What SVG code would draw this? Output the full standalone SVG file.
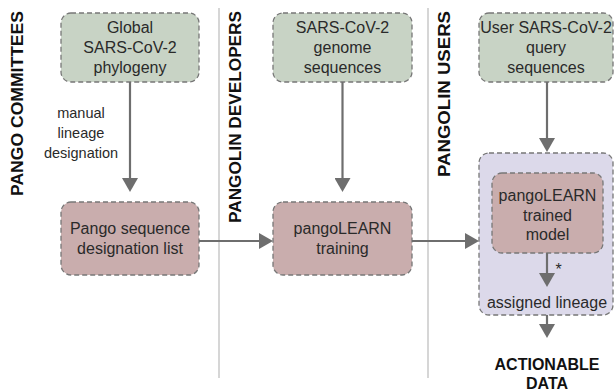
<svg xmlns="http://www.w3.org/2000/svg" width="614" height="392" viewBox="0 0 614 392">
<style>
.t{font-family:"Liberation Sans",Arial,sans-serif;font-size:16px;fill:#2a2a2a;text-anchor:middle}
.s{font-size:14.5px}
.b{font-family:"Liberation Sans",Arial,sans-serif;font-weight:bold;font-size:16px;fill:#111}
.box{stroke:#777;stroke-width:1.3;stroke-dasharray:5 3}
.g{fill:#c8d3c5}
.p{fill:#c9adad}
.v{fill:#dcd9ea}
.sep{stroke:#c9c9c9;stroke-width:1.5}
.a{stroke:#6e6e6e;stroke-width:2.2;fill:none;marker-end:url(#ah)}
</style>
<defs>
<marker id="ah" markerUnits="userSpaceOnUse" markerWidth="14" markerHeight="16" refX="4" refY="8" orient="auto">
<path d="M0,0 L14,8 L0,16 z" fill="#6e6e6e"/>
</marker>
</defs>
<rect width="614" height="392" fill="#fff"/>
<g id="lanes">
<line class="sep" x1="219" y1="8" x2="219" y2="378"/>
<line class="sep" x1="428" y1="8" x2="428" y2="378"/>
<text class="b" transform="translate(23,196) rotate(-90)" textLength="185" lengthAdjust="spacingAndGlyphs">PANGO COMMITTEES</text>
<text class="b" transform="translate(241,223) rotate(-90)" textLength="212" lengthAdjust="spacingAndGlyphs">PANGOLIN DEVELOPERS</text>
<text class="b" transform="translate(450,177) rotate(-90)" textLength="166" lengthAdjust="spacingAndGlyphs">PANGOLIN USERS</text>
</g>
<g id="global-phylogeny">
<rect class="box g" x="61" y="13" width="138" height="69" rx="10"/>
<text class="t" x="130" y="33">Global</text>
<text class="t" x="130" y="53">SARS-CoV-2</text>
<text class="t" x="130" y="73">phylogeny</text>
</g>
<g id="genome-sequences">
<rect class="box g" x="273" y="13" width="139" height="69" rx="10"/>
<text class="t" x="342.5" y="33">SARS-CoV-2</text>
<text class="t" x="342.5" y="53">genome</text>
<text class="t" x="342.5" y="73">sequences</text>
</g>
<g id="query-sequences">
<rect class="box g" x="479" y="13" width="134" height="69" rx="10"/>
<text class="t" x="546" y="33">User SARS-CoV-2</text>
<text class="t" x="546" y="53">query</text>
<text class="t" x="546" y="73">sequences</text>
</g>
<g id="designation-list">
<rect class="box p" x="61" y="202" width="138" height="73" rx="10"/>
<text class="t" x="130" y="234">Pango sequence</text>
<text class="t" x="130" y="254">designation list</text>
</g>
<g id="training">
<rect class="box p" x="273" y="202" width="139" height="73" rx="10"/>
<text class="t" x="342.5" y="234">pangoLEARN</text>
<text class="t" x="342.5" y="254">training</text>
</g>
<g id="users-pipeline">
<rect class="box v" x="479" y="153" width="134" height="162" rx="10"/>
<text class="t" x="547" y="308">assigned lineage</text>
</g>
<g id="trained-model">
<rect class="box p" x="492" y="173" width="111" height="80" rx="10"/>
<text class="t" x="547.5" y="201">pangoLEARN</text>
<text class="t" x="547.5" y="220.5">trained</text>
<text class="t" x="547.5" y="240">model</text>
</g>
<g id="actionable-data">
<text class="b" x="547" y="370" text-anchor="middle" font-size="15">ACTIONABLE</text>
<text class="b" x="547" y="389" text-anchor="middle" font-size="15">DATA</text>
</g>
<g id="connectors">
<line class="a" x1="130" y1="82" x2="130" y2="182"/>
<text class="t s" x="81" y="118">manual</text>
<text class="t s" x="81" y="138">lineage</text>
<text class="t s" x="81" y="158">designation</text>
<line class="a" x1="199" y1="241" x2="263" y2="241"/>
<line class="a" x1="342.5" y1="82" x2="342.5" y2="182"/>
<line class="a" x1="412" y1="241" x2="469" y2="241"/>
<line class="a" x1="547" y1="82" x2="547" y2="142"/>
<line class="a" x1="547" y1="253" x2="547" y2="277"/>
<text class="t" x="558.5" y="275" font-size="21">*</text>
<line class="a" x1="547" y1="315" x2="547" y2="328"/>
</g>
</svg>
